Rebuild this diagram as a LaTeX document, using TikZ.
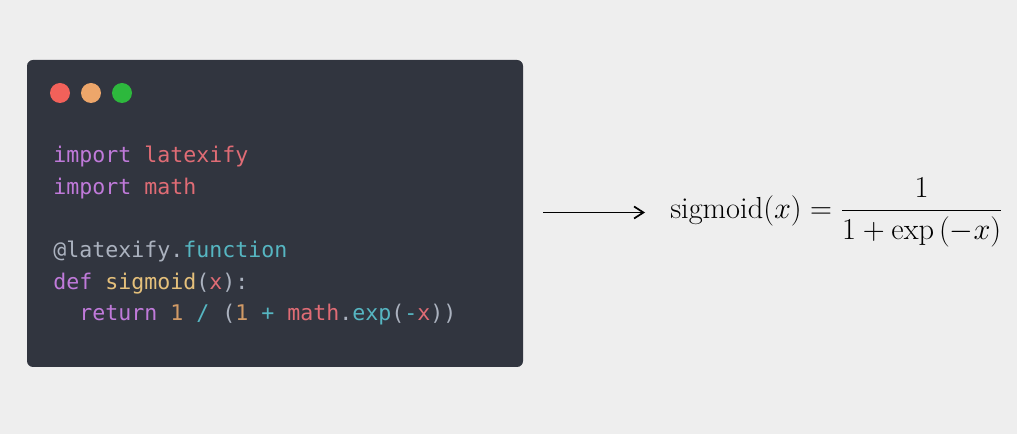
\RequirePackage{fix-cm}
\documentclass[tikz,border=0pt]{standalone}
\usepackage{amsmath}
\usepackage{fontspec}
\setmonofont{DejaVu Sans Mono}
\usetikzlibrary{arrows.meta}

\definecolor{pagebg}{HTML}{EEEEEE}
\definecolor{editorbg}{HTML}{31353F}
\definecolor{dotred}{HTML}{F2615A}
\definecolor{dotorange}{HTML}{EDA66A}
\definecolor{dotgreen}{HTML}{2DB83D}
\definecolor{kwpurple}{HTML}{C07ADA}
\definecolor{modred}{HTML}{E06C75}
\definecolor{plaingray}{HTML}{ABB2BF}
\definecolor{functeal}{HTML}{56B6C2}
\definecolor{nameyellow}{HTML}{E5C07B}
\definecolor{numorange}{HTML}{D19A66}

\newcommand{\kw}[1]{\textcolor{kwpurple}{#1}}
\newcommand{\md}[1]{\textcolor{modred}{#1}}
\newcommand{\pl}[1]{\textcolor{plaingray}{#1}}
\newcommand{\fn}[1]{\textcolor{functeal}{#1}}
\newcommand{\nm}[1]{\textcolor{nameyellow}{#1}}
\newcommand{\nr}[1]{\textcolor{numorange}{#1}}

\tikzset{
  codeline/.style={anchor=base west, inner sep=0pt, font=\fontsize{16.2}{20}\ttfamily},
  windot/.style={radius=7.5pt}
}

\begin{document}
\begin{tikzpicture}[x=0.75pt, y=-0.75pt]
  \fill[pagebg] (0,0) rectangle (1017,434);
  \useasboundingbox (0,0) rectangle (1017,434);

  % editor window
  \fill[editorbg, rounded corners=4.5pt] (27,60) rectangle (523,367);
  \fill[dotred]    (60,93)  circle [windot];
  \fill[dotorange] (91,93)  circle [windot];
  \fill[dotgreen]  (122,93) circle [windot];

  % code
  \node[codeline] (l1) at (53,163) {\kw{import} \md{latexify}};
  \node[codeline] (l2) at (53,195) {\kw{import} \md{math}};
  \node[codeline] (l3) at (53,258) {\pl{@latexify.}\fn{function}};
  \node[codeline] (l4) at (53,290) {\kw{def} \nm{sigmoid}\pl{(}\md{x}\pl{):}};
  \node[codeline] (l5) at (79,321) {\kw{return} \nr{1} \fn{/} \pl{(}\nr{1} \fn{+} \md{math}\pl{.}\fn{exp}\pl{(}\fn{-}\md{x}\pl{))}};

  % result
  \coordinate (start) at (543,212.5);
  \coordinate (stop) at (645,212.5);
  \node[anchor=base west, inner sep=0pt, font=\fontsize{22.8}{27}\selectfont] (formula) at (670,218.5)
    {$\displaystyle \mathrm{sigmoid}(x) = \frac{1}{1 + \exp\left(-x\right)}$};
  \draw[line width=1.3pt, -{Straight Barb[length=7pt, width=9pt]}] (start) -- (stop);
\end{tikzpicture}
\end{document}
